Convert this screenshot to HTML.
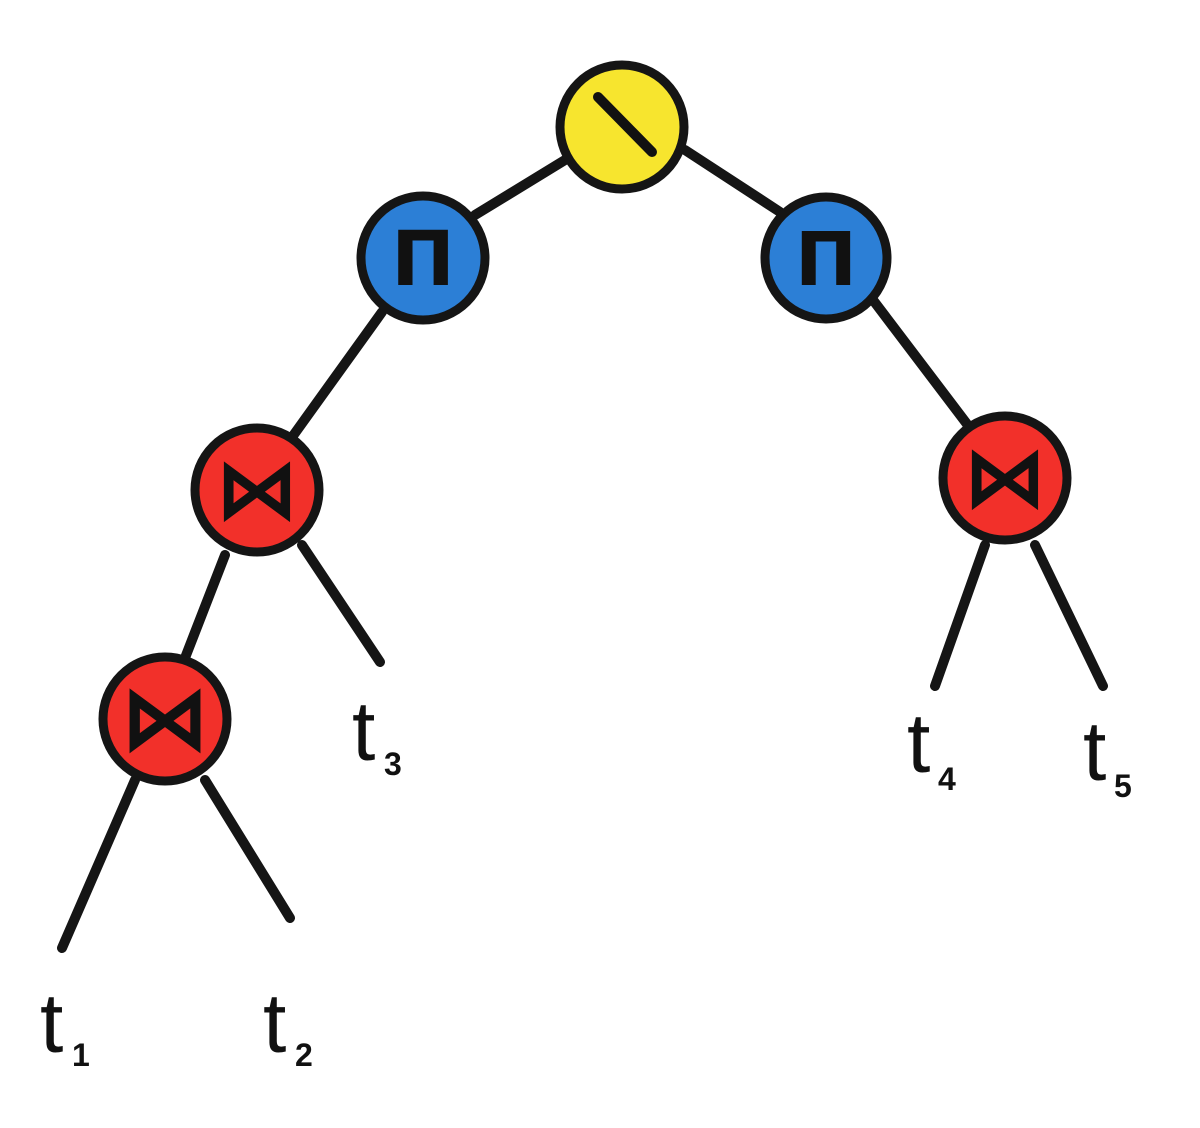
<!DOCTYPE html>
<html><head><meta charset="utf-8"><style>
html,body{margin:0;padding:0;background:#fff;}
svg{display:block;}
.t{font-family:"Liberation Sans",sans-serif;font-size:84px;fill:#111;}
.s{font-family:"Liberation Sans",sans-serif;font-size:32px;fill:#111;font-weight:bold;}
.sym{font-family:"DejaVu Sans",sans-serif;fill:#111;font-weight:bold;text-anchor:middle;}
</style></head><body>
<svg width="1200" height="1128" viewBox="0 0 1200 1128">
<g stroke="#151515" stroke-width="10" stroke-linecap="round" fill="none">
<line x1="565" y1="160" x2="475" y2="215"/>
<line x1="685" y1="150" x2="780" y2="212"/>
<line x1="382" y1="312" x2="290" y2="440"/>
<line x1="873" y1="300" x2="970" y2="428"/>
<line x1="225" y1="555" x2="185" y2="658"/>
<line x1="302" y1="545" x2="380" y2="662"/>
<line x1="135" y1="780" x2="62" y2="948"/>
<line x1="205" y1="780" x2="290" y2="918"/>
<line x1="985" y1="545" x2="935" y2="686"/>
<line x1="1035" y1="545" x2="1103" y2="686"/>
</g>
<g stroke="#151515" stroke-width="9">
<circle cx="622" cy="127" r="62" fill="#f7e52e"/>
<circle cx="423" cy="258" r="62" fill="#2c7fd6"/>
<circle cx="826" cy="258" r="61" fill="#2c7fd6"/>
<circle cx="257" cy="490" r="62" fill="#f2302a"/>
<circle cx="165" cy="719" r="62" fill="#f2302a"/>
<circle cx="1005" cy="478" r="62" fill="#f2302a"/>
</g>
<line x1="598" y1="97" x2="652" y2="152" stroke="#111" stroke-width="10" stroke-linecap="round"/>
<text class="sym" x="423" y="285" font-size="76">Π</text>
<text class="sym" x="826" y="285" font-size="74">Π</text>
<text class="sym" x="257" y="518" font-size="84">⋈</text>
<text class="sym" x="165" y="749" font-size="90">⋈</text>
<text class="sym" x="1005" y="506" font-size="84">⋈</text>
<text class="t" x="40" y="1052">t</text><text class="s" x="72" y="1066">1</text>
<text class="t" x="263" y="1052">t</text><text class="s" x="295" y="1066">2</text>
<text class="t" x="352" y="760">t</text><text class="s" x="384" y="775">3</text>
<text class="t" x="907" y="772">t</text><text class="s" x="938" y="790">4</text>
<text class="t" x="1083" y="780">t</text><text class="s" x="1114" y="797">5</text>
</svg>
</body></html>
